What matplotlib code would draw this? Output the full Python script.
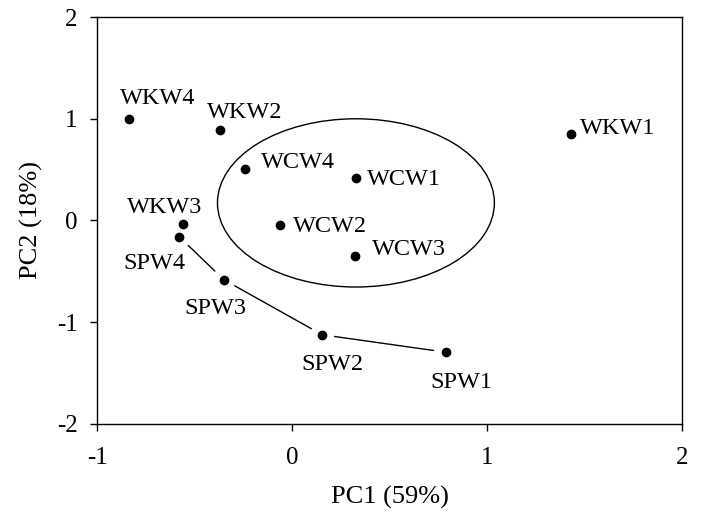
import matplotlib
matplotlib.use("Agg")
import matplotlib.pyplot as plt
from matplotlib.patches import Ellipse

plt.rcParams['font.family'] = ['Liberation Serif', 'DejaVu Serif']
plt.rcParams['axes.unicode_minus'] = False

# PCA scores
labels = ['WKW4', 'WKW2', 'WKW1', 'WCW4', 'WCW1', 'WKW3', 'WCW2', 'WCW3',
          'SPW4', 'SPW3', 'SPW2', 'SPW1']
pc1 = [-0.837, -0.371, 1.432, -0.240, 0.327, -0.560, -0.062, 0.320,
       -0.579, -0.350, 0.154, 0.789]
pc2 = [1.00, 0.893, 0.847, 0.505, 0.42, -0.033, -0.046, -0.352,
       -0.16, -0.583, -1.124, -1.296]

# label offsets (pixels): left edge / baseline relative to the dot
offsets = {
    'WKW4': (-9, 15), 'WKW2': (-13, 12), 'WKW1': (9, 0), 'WCW4': (16, 1),
    'WCW1': (11, -7), 'WKW3': (-56, 11), 'WCW2': (13, -7), 'WCW3': (17, 1),
    'SPW4': (-56, -32), 'SPW3': (-40, -34), 'SPW2': (-21, -35), 'SPW1': (-16, -36),
}

# the SPW series is joined by a line
sp_path = ['SPW4', 'SPW3', 'SPW2', 'SPW1']

# ellipse around the WCW group (center, width, height in data units)
ell_center = (0.327, 0.173)
ell_w, ell_h = 1.42, 1.655

fig = plt.figure(figsize=(7.04, 5.2), dpi=100)
ax = fig.add_axes([0.138, 0.185, 0.831, 0.782])

ax.plot(pc1, pc2, 'o', color='black', markersize=6, zorder=3)

for name in labels:
    i = labels.index(name)
    dx, dy = offsets[name]
    ax.annotate(name, (pc1[i], pc2[i]), xytext=(dx, dy), textcoords='offset pixels',
                ha='left', va='baseline', fontsize=17.5)

for a, b in zip(sp_path[:-1], sp_path[1:]):
    ia, ib = labels.index(a), labels.index(b)
    ax.annotate('', xy=(pc1[ib], pc2[ib]), xytext=(pc1[ia], pc2[ia]),
                arrowprops=dict(arrowstyle='-', color='black', lw=1,
                                shrinkA=9, shrinkB=9))

ax.add_patch(Ellipse(ell_center, ell_w, ell_h, fill=False, edgecolor='black', lw=1))

ax.set_xlim(-1, 2)
ax.set_ylim(-2, 2)
ax.set_xticks([-1, 0, 1, 2])
ax.set_yticks([-2, -1, 0, 1, 2])
ax.tick_params(direction='out', length=5, width=1, labelsize=18)
ax.tick_params(axis='x', pad=12)
ax.tick_params(axis='y', pad=9)
for s in ax.spines.values():
    s.set_linewidth(1)

ax.set_xlabel('PC1 (59%)', fontsize=19, labelpad=12)
ax.set_ylabel('PC2 (18%)', fontsize=19, labelpad=10)

fig.savefig('out.png', dpi=100)
